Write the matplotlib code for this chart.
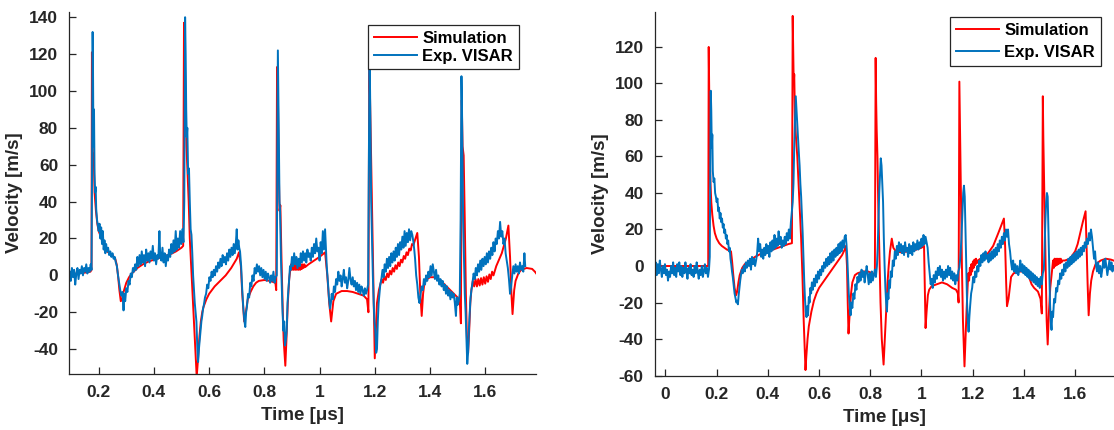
import matplotlib
matplotlib.use("Agg")
import matplotlib.pyplot as plt
from matplotlib.ticker import FuncFormatter

plt.rcParams['font.family'] = ['Liberation Sans', 'DejaVu Sans']
plt.rcParams['font.weight'] = 'bold'
plt.rcParams['axes.unicode_minus'] = False

# ---- left panel: simulation (time [us], velocity [m/s])
left_sim = [
    (0.095, 0.5), (0.12, 1), (0.15, 1.5), (0.17, 2), (0.174, 3), (0.1755, 121), (0.177, 95),
    (0.179, 60), (0.182, 66), (0.185, 45), (0.19, 35), (0.195, 28), (0.2, 24), (0.21, 20),
    (0.22, 16), (0.23, 13), (0.24, 12), (0.25, 11), (0.26, 9), (0.265, 6), (0.27, 0),
    (0.275, -8), (0.28, -14), (0.285, -13), (0.29, -9), (0.3, -4), (0.31, -1), (0.32, 1),
    (0.34, 4), (0.36, 6), (0.38, 7.5), (0.4, 8.5), (0.42, 9.5), (0.44, 10.5), (0.46, 11.5),
    (0.48, 13), (0.5, 15), (0.506, 16), (0.509, 137), (0.512, 120), (0.515, 90), (0.518, 70),
    (0.522, 55), (0.526, 40), (0.53, 20), (0.535, 5), (0.54, -10), (0.545, -25), (0.55, -40),
    (0.555, -55), (0.56, -45), (0.565, -33), (0.57, -25), (0.575, -20), (0.58, -17),
    (0.59, -13), (0.6, -10), (0.62, -6), (0.64, -3), (0.66, 0), (0.68, 4), (0.7, 9),
    (0.708, 12.5), (0.715, 5), (0.72, -10), (0.727, -25), (0.733, -20), (0.74, -13),
    (0.75, -9), (0.76, -6), (0.77, -4), (0.78, -3), (0.8, -2.5), (0.82, -3), (0.84, -4),
    (0.843, -8), (0.846, 113), (0.849, 100), (0.852, 60), (0.855, 35), (0.858, 38),
    (0.862, 10), (0.866, -15), (0.87, -35), (0.876, -49), (0.88, -35), (0.885, -15),
    (0.89, -2), (0.894, 3), (0.897, 6), (0.9, 3), (0.903, 6), (0.906, 3), (0.909, 6),
    (0.912, 3), (0.915, 6), (0.918, 3), (0.921, 6), (0.924, 3), (0.927, 6), (0.93, 3),
    (0.933, 6), (0.936, 3.5), (0.939, 6), (0.942, 4), (0.945, 6), (0.948, 4.5), (0.96, 6),
    (0.98, 8), (1.0, 10),
    (1.02, 12.5), (1.028, 0), (1.035, -15), (1.042, -25), (1.05, -14), (1.06, -10),
    (1.08, -8.5), (1.1, -8.5), (1.12, -9), (1.14, -10), (1.16, -11), (1.172, -13),
    (1.177, -20), (1.18, 114), (1.183, 95), (1.186, 70), (1.19, 35), (1.194, 0),
    (1.197, -25), (1.2, -45), (1.204, -30), (1.208, -15), (1.215, -8), (1.22, -5),
    (1.225, -2), (1.23, -4), (1.235, -0.5), (1.24, -2.5), (1.245, 1), (1.25, -1),
    (1.255, 2.5), (1.26, 0.5), (1.265, 4), (1.27, 2), (1.275, 5.5), (1.28, 3.5), (1.285, 7),
    (1.29, 5), (1.295, 8.5), (1.3, 7), (1.305, 10.5), (1.31, 9), (1.315, 12.5), (1.32, 11),
    (1.325, 14.5), (1.33, 13.5), (1.335, 17), (1.34, 16.5), (1.354, 23),
    (1.36, 10), (1.365, -10), (1.37, -22), (1.375, -10), (1.38, -4), (1.39, -2), (1.4, -1),
    (1.42, -1), (1.44, -3), (1.46, -6), (1.48, -9), (1.5, -12), (1.508, -14), (1.512, -26),
    (1.515, 95), (1.518, 70), (1.522, 65), (1.526, 30), (1.53, -10), (1.534, -35),
    (1.538, -42), (1.542, -30), (1.546, -15), (1.55, -8), (1.555, -3), (1.56, -6),
    (1.565, -2), (1.57, -6), (1.575, -2), (1.58, -5.5), (1.585, -1.5), (1.59, -5),
    (1.595, -1), (1.6, -4.5), (1.605, -0.5), (1.61, -3.5), (1.615, 0.5), (1.62, -2),
    (1.625, 2), (1.63, 0), (1.64, 5), (1.66, 12), (1.675, 20), (1.684, 27), (1.69, 10),
    (1.695, -10), (1.699, -21), (1.705, -8), (1.71, -3), (1.72, 1), (1.73, 3), (1.75, 4),
    (1.77, 3.5), (1.78, 2), (1.785, 1),
]

# ---- left panel: VISAR measurement
left_exp = [
    (0.095, 2), (0.099, -3), (0.103, 4), (0.107, -1), (0.111, 3), (0.115, -5), (0.119, 1),
    (0.123, 4), (0.127, -2), (0.131, 3), (0.135, 1), (0.139, 5), (0.143, 0), (0.147, 4),
    (0.151, 2), (0.155, 6), (0.159, 1), (0.163, 4), (0.167, 2), (0.171, 6), (0.174, 3),
    (0.176, 60), (0.178, 132), (0.1795, 110), (0.181, 70), (0.183, 90), (0.185, 55),
    (0.187, 45), (0.189, 48), (0.191, 36), (0.194, 30), (0.197, 27), (0.2, 24), (0.203, 28),
    (0.206, 20), (0.209, 26), (0.212, 17), (0.215, 24), (0.218, 14), (0.221, 19),
    (0.224, 12), (0.227, 17), (0.23, 13), (0.234, 15), (0.238, 11), (0.242, 13), (0.246, 10),
    (0.25, 12), (0.254, 9), (0.258, 10), (0.262, 7), (0.266, 5), (0.27, 0), (0.274, -4),
    (0.278, -8), (0.282, -11), (0.286, -9), (0.29, -19), (0.293, -10), (0.296, -14),
    (0.3, -7), (0.304, -9), (0.308, -3), (0.312, -5), (0.316, 1), (0.32, -1), (0.324, 4),
    (0.328, 2), (0.332, 6), (0.336, 3), (0.34, 10), (0.344, 5), (0.348, 11), (0.352, 6),
    (0.356, 13), (0.36, 7), (0.364, 11), (0.368, 5), (0.372, 14), (0.376, 8), (0.38, 12),
    (0.384, 7), (0.388, 13), (0.392, 9), (0.396, 16), (0.4, 8), (0.404, 12), (0.408, 6),
    (0.412, 11), (0.416, 9), (0.42, 24), (0.423, 10), (0.427, 8), (0.431, 15), (0.435, 7),
    (0.439, 12), (0.443, 5), (0.447, 11), (0.451, 8), (0.455, 14), (0.459, 10), (0.463, 17),
    (0.467, 12), (0.471, 19), (0.475, 13), (0.479, 24), (0.483, 14), (0.487, 20),
    (0.491, 15), (0.495, 24), (0.499, 17), (0.503, 25), (0.507, 18), (0.51, 40),
    (0.513, 140), (0.515, 120), (0.517, 90), (0.519, 75), (0.521, 80), (0.524, 55),
    (0.527, 58), (0.53, 40), (0.533, 25), (0.536, 22), (0.539, 12), (0.542, 0), (0.545, -8),
    (0.548, -15), (0.551, -20), (0.554, -25), (0.557, -38), (0.56, -47), (0.563, -40),
    (0.566, -35), (0.569, -30), (0.572, -25), (0.575, -22), (0.578, -18), (0.581, -16),
    (0.585, -12), (0.589, -10), (0.593, -5), (0.597, -7), (0.601, -1), (0.605, -3),
    (0.609, 2), (0.613, -1), (0.617, 3), (0.621, 0), (0.625, 5), (0.629, 2), (0.633, 7),
    (0.637, 4), (0.641, 9), (0.645, 5), (0.649, 11), (0.653, 7), (0.657, 10), (0.661, 6),
    (0.665, 12), (0.669, 8), (0.673, 14), (0.677, 10), (0.681, 15), (0.685, 11), (0.689, 17),
    (0.693, 12), (0.697, 18), (0.7, 25), (0.703, 14), (0.706, 19), (0.709, 15), (0.712, 13),
    (0.716, 5), (0.72, -8), (0.724, -18), (0.728, -25), (0.731, -28), (0.734, -20),
    (0.737, -17), (0.741, -10), (0.745, -12), (0.749, -4), (0.753, -6), (0.757, 0),
    (0.761, -3), (0.765, 4), (0.769, 1), (0.773, 6), (0.777, 2), (0.781, 5), (0.785, 0),
    (0.789, 4), (0.793, -1), (0.797, 3), (0.801, -2), (0.805, 2), (0.809, -3), (0.813, 1),
    (0.817, -1), (0.821, -4), (0.825, 0), (0.829, -3), (0.833, 2), (0.837, -4), (0.841, -1),
    (0.845, 0), (0.847, 60), (0.849, 122), (0.851, 95), (0.853, 70), (0.855, 40),
    (0.857, 35), (0.86, 10), (0.863, -5), (0.866, -20), (0.869, -30), (0.872, -25),
    (0.875, -38), (0.878, -35), (0.881, -30), (0.884, -15), (0.887, -8), (0.89, -2),
    (0.893, 5), (0.896, 3), (0.9, 10), (0.904, 5), (0.908, 12), (0.912, 6), (0.916, 10),
    (0.92, 4), (0.924, 9), (0.928, 5), (0.932, 12), (0.936, 7), (0.94, 13), (0.944, 8),
    (0.948, 12), (0.952, 7), (0.956, 14), (0.96, 10), (0.964, 12), (0.968, 8), (0.972, 15),
    (0.976, 10), (0.98, 17), (0.984, 12), (0.988, 20), (0.992, 13), (0.996, 15), (1.0, 8),
    (1.004, 18), (1.008, 12), (1.012, 24), (1.016, 14), (1.02, 25), (1.023, 15), (1.026, 5),
    (1.03, -3), (1.034, -12), (1.038, -18), (1.041, -15), (1.044, -10), (1.048, -13),
    (1.052, -6), (1.056, -9), (1.06, -2), (1.064, -5), (1.068, 2), (1.072, -3), (1.076, 0),
    (1.08, -6), (1.084, -2), (1.088, 3), (1.092, -4), (1.096, -1), (1.1, -7), (1.104, -3),
    (1.108, 4), (1.112, -2), (1.116, -5), (1.12, -1), (1.124, -6), (1.128, -3), (1.132, -8),
    (1.136, -4), (1.14, -9), (1.144, -5), (1.148, -10), (1.152, -6), (1.156, -8),
    (1.16, -11), (1.164, -7), (1.168, -10), (1.172, -8), (1.176, -5), (1.178, 50),
    (1.181, 116), (1.183, 100), (1.185, 70), (1.187, 40), (1.19, 20), (1.193, 0),
    (1.196, -15), (1.199, -25), (1.202, -30), (1.205, -42), (1.208, -40), (1.211, -25),
    (1.214, -15), (1.217, -10), (1.22, -5), (1.224, -2), (1.228, 3), (1.232, -1), (1.236, 6),
    (1.24, 2), (1.244, 9), (1.248, 4), (1.252, 10), (1.256, 5), (1.26, 12), (1.264, 7),
    (1.268, 13), (1.272, 8), (1.276, 15), (1.28, 10), (1.284, 17), (1.288, 11), (1.292, 18),
    (1.296, 14), (1.3, 21), (1.304, 15), (1.308, 24), (1.312, 16), (1.316, 23), (1.32, 18),
    (1.324, 25), (1.328, 19), (1.332, 24), (1.336, 22), (1.34, 18), (1.343, 14), (1.346, 9),
    (1.35, 0), (1.354, -5), (1.358, -12), (1.362, -15), (1.366, -10), (1.37, -6),
    (1.374, -8), (1.378, -2), (1.382, -5), (1.386, 0), (1.39, -3), (1.394, 2), (1.398, -1),
    (1.402, 5), (1.406, 0), (1.41, 6), (1.414, 2), (1.418, -2), (1.422, 3), (1.426, -3),
    (1.43, 0), (1.434, -5), (1.438, -2), (1.442, -6), (1.446, -3), (1.45, -8), (1.454, -5),
    (1.458, -10), (1.462, -6), (1.466, -11), (1.47, -8), (1.474, -13), (1.478, -9),
    (1.482, -12), (1.486, -10), (1.49, -15), (1.494, -22), (1.497, -12), (1.5, -16),
    (1.504, -14), (1.508, -10), (1.511, 30), (1.514, 108), (1.516, 90), (1.518, 60),
    (1.52, 30), (1.523, 10), (1.526, -10), (1.529, -20), (1.532, -35), (1.535, -48),
    (1.538, -42), (1.541, -30), (1.544, -20), (1.547, -12), (1.55, -8), (1.554, -4),
    (1.558, 1), (1.562, -2), (1.566, 4), (1.57, 0), (1.574, 6), (1.578, 2), (1.582, 8),
    (1.586, 3), (1.59, 9), (1.594, 5), (1.598, 10), (1.602, 6), (1.606, 12), (1.61, 7),
    (1.614, 13), (1.618, 9), (1.622, 15), (1.626, 11), (1.63, 18), (1.634, 13), (1.638, 20),
    (1.642, 17), (1.646, 24), (1.65, 20), (1.654, 29), (1.658, 21), (1.662, 24), (1.666, 17),
    (1.67, 20), (1.674, 12), (1.678, 8), (1.682, 4), (1.686, -2), (1.69, -10), (1.694, -6),
    (1.698, 0), (1.702, 5), (1.706, 1), (1.71, 6), (1.714, 2), (1.718, 5), (1.722, 1),
    (1.726, 7), (1.73, 3), (1.734, 5), (1.738, 2), (1.742, 12), (1.745, 5),
]

# ---- right panel: simulation
right_sim = [
    (-0.042, 0), (0.0, 0), (0.1, 0), (0.167, 0), (0.169, 120), (0.171, 95), (0.173, 60),
    (0.176, 45), (0.179, 35), (0.183, 28), (0.188, 22), (0.193, 18), (0.2, 15), (0.21, 12.5),
    (0.22, 11), (0.23, 10), (0.24, 9), (0.25, 8.5), (0.256, 8), (0.26, 3), (0.265, -5),
    (0.27, -12), (0.276, -16), (0.28, -14), (0.285, -9), (0.29, -5), (0.3, -1), (0.31, 1),
    (0.33, 3), (0.35, 5), (0.37, 6.5), (0.4, 8), (0.42, 9), (0.44, 10), (0.46, 11),
    (0.48, 12), (0.494, 12.5), (0.497, 137), (0.499, 120), (0.501, 100), (0.503, 105),
    (0.506, 80), (0.51, 70), (0.515, 60), (0.52, 45), (0.525, 30), (0.53, 15), (0.535, -5),
    (0.54, -30), (0.544, -45), (0.547, -57), (0.55, -50), (0.555, -40), (0.56, -33),
    (0.57, -25), (0.58, -19), (0.59, -15), (0.6, -12), (0.62, -8), (0.64, -4), (0.66, 0),
    (0.68, 4), (0.69, 6), (0.7, 9), (0.705, 11), (0.709, 0), (0.712, -20), (0.715, -37),
    (0.72, -25), (0.725, -15), (0.73, -9), (0.74, -5), (0.75, -4), (0.77, -3), (0.79, -3),
    (0.81, -4), (0.818, -5), (0.821, 114), (0.823, 90), (0.825, 75), (0.828, 60),
    (0.831, 35), (0.835, 10), (0.84, -20), (0.845, -40), (0.852, -54), (0.857, -40),
    (0.862, -25), (0.867, -10), (0.872, 0), (0.877, 8), (0.884, 15), (0.89, 10), (0.9, 8),
    (0.92, 7.5), (0.95, 8), (0.98, 9), (1.0, 10), (1.01, 11), (1.013, -10), (1.016, -34),
    (1.02, -25), (1.025, -16), (1.03, -13), (1.04, -11), (1.06, -10), (1.08, -9),
    (1.1, -10), (1.12, -12), (1.135, -13), (1.142, -15), (1.145, -20), (1.148, 101),
    (1.15, 80), (1.152, 60), (1.155, 30), (1.158, 0), (1.162, -30), (1.168, -55),
    (1.172, -40), (1.176, -25), (1.18, -12), (1.183, -4), (1.186, -8), (1.189, -1),
    (1.192, -5), (1.195, 1), (1.198, -3), (1.201, 2.5), (1.204, -1), (1.207, 3.5),
    (1.21, 0.5), (1.213, 4), (1.216, 1.5), (1.22, 3), (1.24, 5), (1.26, 7), (1.28, 11),
    (1.3, 18), (1.322, 26), (1.327, 10), (1.331, -10),
    (1.334, -22), (1.34, -18), (1.345, -12), (1.35, -6), (1.36, -4), (1.38, -3), (1.41, -3),
    (1.42, -6), (1.43, -10), (1.44, -12), (1.455, -14), (1.465, -18), (1.47, -26),
    (1.474, 93), (1.476, 70), (1.478, 53), (1.481, 30), (1.485, 0), (1.489, -30),
    (1.493, -43), (1.498, -25), (1.503, -12), (1.508, -5), (1.511, -1), (1.514, 3),
    (1.517, -1), (1.52, 4), (1.523, 0), (1.526, 4), (1.529, 0.5), (1.532, 4), (1.535, 1),
    (1.538, 4), (1.541, 1.5), (1.544, 4), (1.547, 2), (1.55, 3),
    (1.56, 3), (1.58, 4), (1.6, 8), (1.61, 12), (1.62, 18), (1.63, 24),
    (1.641, 30), (1.645, 10), (1.649, -10), (1.653, -27), (1.658, -15), (1.663, -8),
    (1.67, -3), (1.68, 1), (1.7, 3), (1.72, 4), (1.74, 3.5), (1.75, 3),
]

# ---- right panel: VISAR measurement
right_exp = [
    (-0.042, -3), (-0.038, 2), (-0.034, -5), (-0.03, 1), (-0.026, -4), (-0.022, 3),
    (-0.018, -2), (-0.014, -6), (-0.01, 0), (-0.006, -4), (-0.002, 1), (0.002, -5),
    (0.006, -2), (0.01, -8), (0.014, -3), (0.018, -6), (0.022, 0), (0.026, -4), (0.03, 2),
    (0.034, -5), (0.038, -1), (0.042, -6), (0.046, 1), (0.05, -3), (0.054, 2), (0.058, -5),
    (0.062, 0), (0.066, -6), (0.07, -1), (0.074, -4), (0.078, 2), (0.082, -3), (0.086, -7),
    (0.09, -1), (0.094, -4), (0.098, 1), (0.102, -5), (0.106, -2), (0.11, -6), (0.114, 0),
    (0.118, -4), (0.122, 2), (0.126, -3), (0.13, -7), (0.134, -2), (0.138, -5), (0.142, 0),
    (0.146, -6), (0.15, -3), (0.154, 1), (0.158, -4), (0.162, -1), (0.166, -6), (0.17, -2),
    (0.173, 5), (0.175, 50), (0.177, 96), (0.179, 85), (0.181, 65), (0.183, 72),
    (0.185, 52), (0.188, 46), (0.191, 48), (0.194, 40), (0.197, 38), (0.2, 35), (0.203, 37),
    (0.206, 30), (0.209, 32), (0.212, 26), (0.215, 29), (0.218, 24), (0.221, 26),
    (0.224, 21), (0.227, 23), (0.23, 18), (0.233, 20), (0.236, 15), (0.239, 17), (0.242, 12),
    (0.245, 14), (0.248, 8), (0.251, 10), (0.254, 4), (0.257, 1), (0.26, -3), (0.263, -6),
    (0.266, -10), (0.27, -15), (0.274, -18), (0.277, -20), (0.28, -19), (0.283, -21),
    (0.286, -16), (0.289, -12), (0.292, -8), (0.295, -5), (0.298, -2), (0.302, -4),
    (0.306, 0), (0.31, -3), (0.314, 2), (0.318, -1), (0.322, 3), (0.326, 0), (0.33, 4),
    (0.334, -2), (0.338, 5), (0.342, 1), (0.346, 4), (0.35, 0), (0.354, 3), (0.358, 7),
    (0.362, 15), (0.366, 8), (0.37, 12), (0.374, 5), (0.378, 9), (0.382, 4), (0.386, 10),
    (0.39, 6), (0.394, 12), (0.398, 7), (0.402, 11), (0.406, 5), (0.41, 13), (0.414, 8),
    (0.418, 14), (0.422, 9), (0.426, 17), (0.43, 10), (0.434, 15), (0.438, 11), (0.442, 19),
    (0.446, 12), (0.45, 16), (0.454, 10), (0.458, 14), (0.462, 11), (0.466, 16), (0.47, 12),
    (0.474, 18), (0.478, 14), (0.482, 20), (0.486, 15), (0.49, 24), (0.494, 30), (0.497, 35),
    (0.5, 45), (0.503, 65), (0.506, 80), (0.509, 93), (0.512, 85), (0.515, 78), (0.518, 70),
    (0.521, 62), (0.524, 55), (0.527, 45), (0.53, 38), (0.533, 28), (0.536, 18), (0.539, 5),
    (0.542, -8), (0.545, -18), (0.548, -25), (0.551, -28), (0.554, -22), (0.557, -27),
    (0.56, -17), (0.563, -20), (0.566, -12), (0.569, -15), (0.572, -9), (0.576, -13),
    (0.58, -7), (0.584, -11), (0.588, -5), (0.592, -9), (0.596, -3), (0.6, -7), (0.604, -2),
    (0.608, -5), (0.612, 0), (0.616, -3), (0.62, 2), (0.624, -1), (0.628, 4), (0.632, 0),
    (0.636, 5), (0.64, 1), (0.644, 7), (0.648, 2), (0.652, 8), (0.656, 3), (0.66, 9),
    (0.664, 5), (0.668, 10), (0.672, 6), (0.676, 12), (0.68, 7), (0.684, 13), (0.688, 8),
    (0.692, 14), (0.696, 10), (0.7, 16), (0.704, 17), (0.707, 12), (0.71, 5), (0.713, -5),
    (0.716, -15), (0.72, -22), (0.723, -27), (0.726, -20), (0.73, -23), (0.734, -15),
    (0.738, -18), (0.742, -10), (0.746, -13), (0.75, -6), (0.754, -9), (0.758, -4),
    (0.762, -8), (0.766, -2), (0.77, -6), (0.774, -3), (0.778, -9), (0.782, -4), (0.786, 0),
    (0.79, -5), (0.794, -10), (0.798, -4), (0.802, -9), (0.806, -3), (0.81, -8), (0.814, -5),
    (0.818, -2), (0.822, -6), (0.826, 0), (0.829, 10), (0.832, 25), (0.835, 40), (0.838, 50),
    (0.841, 59), (0.844, 55), (0.847, 45), (0.85, 35), (0.853, 15), (0.856, 0),
    (0.859, -12), (0.862, -20), (0.865, -25), (0.868, -15), (0.871, -18), (0.874, -8),
    (0.877, -12), (0.88, -3), (0.884, -6), (0.888, 3), (0.892, 0), (0.896, 8), (0.9, 4),
    (0.904, 11), (0.908, 6), (0.912, 13), (0.916, 8), (0.92, 12), (0.924, 7), (0.928, 11),
    (0.932, 6), (0.936, 13), (0.94, 8), (0.944, 10), (0.948, 5), (0.952, 12), (0.956, 7),
    (0.96, 11), (0.964, 6), (0.968, 13), (0.972, 8), (0.976, 12), (0.98, 9), (0.984, 14),
    (0.988, 9), (0.992, 13), (0.996, 10), (1.0, 15), (1.004, 11), (1.008, 17), (1.012, 12),
    (1.016, 16), (1.02, 13), (1.024, 10), (1.028, 2), (1.032, -4), (1.036, -10), (1.04, -7),
    (1.044, -12), (1.048, -5), (1.052, -9), (1.056, -3), (1.06, -7), (1.064, -1),
    (1.068, -5), (1.072, 0), (1.076, -6), (1.08, -2), (1.084, -8), (1.088, -3), (1.092, -7),
    (1.096, -2), (1.1, -6), (1.104, 0), (1.108, -5), (1.112, -1), (1.116, -7), (1.12, -3),
    (1.124, -8), (1.128, -4), (1.132, -10), (1.136, -5), (1.14, -8), (1.144, -3),
    (1.148, -1), (1.152, 5), (1.156, 15), (1.16, 30), (1.163, 40), (1.166, 44), (1.169, 38),
    (1.172, 20), (1.175, 0), (1.178, -20), (1.181, -30), (1.184, -36), (1.187, -28),
    (1.19, -22), (1.194, -15), (1.198, -12), (1.202, -6), (1.206, -9), (1.21, -3),
    (1.214, -6), (1.218, 0), (1.222, -3), (1.226, 3), (1.23, 0), (1.234, 6), (1.238, 2),
    (1.242, 7), (1.246, 3), (1.25, 8), (1.254, 4), (1.258, 6), (1.262, 2), (1.266, 7),
    (1.27, 3), (1.274, 8), (1.278, 4), (1.282, 9), (1.286, 5), (1.29, 10), (1.294, 6),
    (1.298, 12), (1.302, 8), (1.306, 14), (1.31, 10), (1.314, 16), (1.318, 12), (1.322, 18),
    (1.326, 14), (1.33, 20), (1.334, 16), (1.338, 20), (1.342, 12), (1.346, 8), (1.35, 2),
    (1.354, -2), (1.358, 3), (1.362, -3), (1.366, 1), (1.37, -4), (1.374, 0), (1.378, -5),
    (1.382, -2), (1.386, 3), (1.39, -3), (1.394, 1), (1.398, -4), (1.402, 0), (1.406, -5),
    (1.41, -1), (1.414, -6), (1.418, -2), (1.422, -7), (1.426, -3), (1.43, -8), (1.434, -4),
    (1.438, -9), (1.442, -5), (1.446, -10), (1.45, -6), (1.454, -11), (1.458, -7),
    (1.462, -12), (1.466, -6), (1.47, -10), (1.474, -4), (1.478, -2), (1.481, 10),
    (1.484, 25), (1.487, 35), (1.49, 40), (1.493, 38), (1.496, 20), (1.499, 0),
    (1.502, -20), (1.505, -30), (1.508, -35), (1.511, -25), (1.514, -28), (1.518, -18),
    (1.522, -20), (1.526, -12), (1.53, -14), (1.534, -8), (1.538, -10), (1.542, -4),
    (1.546, -7), (1.55, -2), (1.554, -5), (1.558, 1), (1.562, -3), (1.566, 2), (1.57, -1),
    (1.574, 4), (1.578, 0), (1.582, 5), (1.586, 1), (1.59, 6), (1.594, 2), (1.598, 7),
    (1.602, 3), (1.606, 8), (1.61, 4), (1.614, 9), (1.618, 5), (1.622, 10), (1.626, 6),
    (1.63, 11), (1.634, 8), (1.638, 13), (1.642, 10), (1.646, 15), (1.65, 12), (1.654, 18),
    (1.658, 14), (1.662, 20), (1.666, 16), (1.67, 10), (1.674, 4), (1.678, 8), (1.682, 0),
    (1.686, -3), (1.69, 2), (1.694, -4), (1.698, 0), (1.702, -6), (1.706, -2), (1.71, 3),
    (1.714, -1), (1.718, 4), (1.722, 0), (1.726, -5), (1.73, -1), (1.734, 3), (1.738, -2),
    (1.742, 2), (1.746, -3), (1.75, 0),
]

left_xticks = [0.2, 0.4, 0.6, 0.8, 1.0, 1.2, 1.4, 1.6]
left_yticks = [-40, -20, 0, 20, 40, 60, 80, 100, 120, 140]
right_xticks = [0, 0.2, 0.4, 0.6, 0.8, 1.0, 1.2, 1.4, 1.6]
right_yticks = [-60, -40, -20, 0, 20, 40, 60, 80, 100, 120]

RED = '#ff0000'
BLUE = '#0072bd'
AXC = '#262626'

fig = plt.figure(figsize=(11.14, 4.30), dpi=100)
ax1 = fig.add_axes([0.0622, 0.1302, 0.4187, 0.8426])
ax2 = fig.add_axes([0.5877, 0.1267, 0.4123, 0.846])


def style(ax, sim, exp, xlim, ylim, xticks, yticks, leg_anchor, spacing):
    ax.plot([p[0] for p in sim], [p[1] for p in sim], color=RED, lw=1.4, label='Simulation')
    ax.plot([p[0] for p in exp], [p[1] for p in exp], color=BLUE, lw=1.4, label='Exp. VISAR')
    ax.set_xlim(*xlim)
    ax.set_ylim(*ylim)
    ax.set_xticks(xticks)
    ax.set_yticks(yticks)
    ax.xaxis.set_major_formatter(FuncFormatter(lambda v, p: '%g' % round(v, 2)))
    for s in ['top', 'right']:
        ax.spines[s].set_visible(False)
    for s in ['left', 'bottom']:
        ax.spines[s].set_color(AXC)
        ax.spines[s].set_linewidth(0.9)
    ax.tick_params(direction='in', length=5, width=0.9, color=AXC,
                   labelsize=12.5, labelcolor=AXC, pad=8)
    for lab in ax.get_xticklabels() + ax.get_yticklabels():
        lab.set_fontweight('bold')
    ax.set_xlabel('Time [μs]', fontsize=13.5, fontweight='bold', color=AXC, labelpad=5)
    ax.set_ylabel('Velocity [m/s]', fontsize=13.5, fontweight='bold', color=AXC, labelpad=4)
    leg = ax.legend(loc='upper right', bbox_to_anchor=leg_anchor, fancybox=False,
                    edgecolor=AXC, framealpha=1, handlelength=2.6, handletextpad=0.3,
                    borderpad=0.35, labelspacing=spacing, borderaxespad=0,
                    prop={'weight': 'bold', 'size': 12})
    leg.get_frame().set_linewidth(0.9)


style(ax1, left_sim, left_exp, (0.0935, 1.783), (-53.5, 143),
      left_xticks, left_yticks, (0.964, 0.9625), 0.15)
style(ax2, right_sim, right_exp, (-0.042, 1.752), (-60, 139.3),
      right_xticks, right_yticks, (0.971, 0.986), 0.45)

fig.savefig('out.png', dpi=100)
